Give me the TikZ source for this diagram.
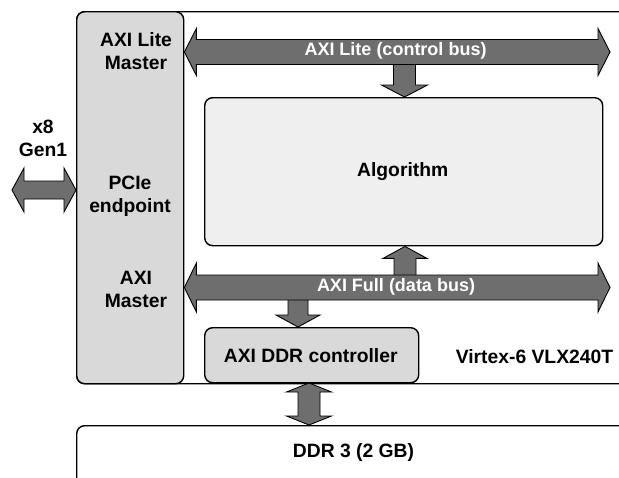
\documentclass[tikz,border=0pt]{standalone}
\usepackage{fontspec}
\setmainfont{Liberation Sans}
\usetikzlibrary{calc}
\definecolor{busgray}{HTML}{6E6E6E}
\definecolor{blockgray}{HTML}{D9D9D9}
\definecolor{algfill}{HTML}{EFEFEF}
\tikzset{
  lbl/.style={font=\fontsize{19.3}{23}\selectfont\bfseries, align=center, inner sep=0pt},
  buslbl/.style={lbl, font=\fontsize{18}{22}\selectfont\bfseries, text=white},
  block/.style={draw=black, line width=1.4pt, rounded corners=8pt, inner sep=0pt, anchor=north west},
  busarrow/.style={draw=black, line width=0.9pt, fill=busgray, line join=miter},
}
% Block arrow with heads at both ends: from, to, shaft half-width, head half-width, head length
\newcommand\dblarrow[5]{%
  \coordinate (hbA) at ($(#1)!#5!(#2)$);
  \coordinate (hbB) at ($(#2)!#5!(#1)$);
  \draw[busarrow] (#1) -- ($(hbA)!#4!90:(#2)$) -- ($(hbA)!#3!90:(#2)$)
    -- ($(hbB)!#3!90:(#2)$) -- ($(hbB)!#4!90:(#2)$) -- (#2)
    -- ($(hbB)!#4!-90:(#2)$) -- ($(hbB)!#3!-90:(#2)$)
    -- ($(hbA)!#3!-90:(#2)$) -- ($(hbA)!#4!-90:(#2)$) -- cycle;}
% Block arrow with one head: tail, tip, shaft half-width, head half-width, head length
\newcommand\sglarrow[5]{%
  \coordinate (hbT) at ($(#2)!#5!(#1)$);
  \draw[busarrow] (#2) -- ($(hbT)!#4!90:(#2)$) -- ($(hbT)!#3!90:(#2)$)
    -- ($(#1)!#3!90:(#2)$) -- ($(#1)!#3!-90:(#2)$)
    -- ($(hbT)!#3!-90:(#2)$) -- ($(hbT)!#4!-90:(#2)$) -- cycle;}
\begin{document}
\begin{tikzpicture}[x=1pt,y=-1pt]
\useasboundingbox (0,0) rectangle (619,477);
\clip (0,0) rectangle (619,477);

% FPGA and memory outlines
\node[block, fill=white, minimum width=600pt, minimum height=372pt] (fpga) at (76,11) {};
\node[block, fill=white, minimum width=600pt, minimum height=100pt] (ddr) at (76,425) {};

% blocks inside the FPGA
\node[block, fill=blockgray, minimum width=107pt, minimum height=372pt] (pcie) at (76,11) {};
\node[block, fill=algfill, minimum width=398pt, minimum height=148pt] (alg) at (204,97) {};
\node[lbl] at ($(alg.center)+(-1,0)$) {Algorithm};
\node[block, fill=blockgray, minimum width=214pt, minimum height=55pt] (ddrc) at (204,327) {};
\node[lbl] at ($(ddrc.center)+(-1,0)$) {AXI DDR controller};

% text labels
\node[lbl] at (136,51.5) {AXI Lite\\Master};
\node[lbl] at (130,196.5) {PCIe\\endpoint};
\node[lbl] at (136,289) {AXI\\Master};
\node[lbl] at (43,138.5) {x8\\Gen1};
\node[lbl] at (534.5,357) {Virtex-6 VLX240T};
\node[lbl] at (353.5,452.5) {DDR 3 (2 GB)};

% connection points
\coordinate (host) at (12,190);
\coordinate (pcieIn) at (pcie.west |- host);
\coordinate (liteL) at (pcie.east |- 0,52);
\coordinate (liteR) at (610,52);
\coordinate (fullL) at (pcie.east |- 0,287.5);
\coordinate (fullR) at (610,287.5);
\coordinate (liteTap) at (404.5,62);
\coordinate (algTop) at (alg.north -| liteTap);
\coordinate (fullTap) at (405,278);
\coordinate (algBot) at (alg.south -| fullTap);
\coordinate (ctrlTap) at (298,297);
\coordinate (ctrlTop) at (ddrc.north -| ctrlTap);
\coordinate (memA) at (309,383);
\coordinate (memB) at (ddr.north -| memA);

% taps from the buses
\sglarrow{liteTap}{algTop}{11pt}{23pt}{12pt}
\sglarrow{fullTap}{algBot}{11pt}{22pt}{12pt}
\sglarrow{ctrlTap}{ctrlTop}{10pt}{22pt}{12pt}
\dblarrow{memA}{memB}{11pt}{22.5pt}{9pt}

% host link and buses
\dblarrow{host}{pcieIn}{9pt}{22pt}{12pt}
\dblarrow{liteL}{liteR}{12.5pt}{23.5pt}{12pt}
\dblarrow{fullL}{fullR}{12.5pt}{24.5pt}{12pt}

\node[buslbl] at (395.5,50.5) {AXI Lite (control bus)};
\node[buslbl] at (396,286.5) {AXI Full (data bus)};
\end{tikzpicture}
\end{document}
